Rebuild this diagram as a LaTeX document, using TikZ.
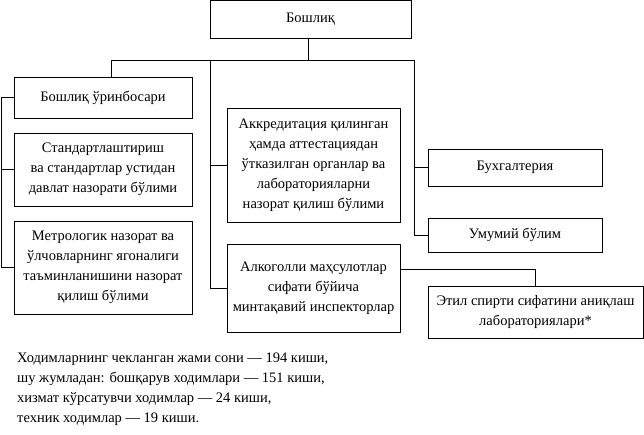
\documentclass[tikz,border=0pt]{standalone}
\usepackage{fontspec}
\setmainfont{Liberation Serif}
\usetikzlibrary{positioning,calc}

\tikzset{
    unit/.style={draw, line width=0.9pt, align=center, inner sep=2pt, font=\fontsize{14.5}{20}\selectfont},
    link/.style={line width=0.9pt}
}

\begin{document}
\begin{tikzpicture}[x=1pt, y=-1pt]
    \useasboundingbox (0,0) rectangle (644,435);

    % top
    \node[unit, minimum width=201pt, minimum height=37.5pt] (boss) at (310.5,19.25) {Бошлиқ};

    % left column
    \node[unit, minimum width=178pt, minimum height=41pt] (deputy) at (103,97.5) {Бошлиқ ўринбосари};
    \node[unit, minimum width=178pt, minimum height=73pt] (stand) at (103,169.5) {Стандартлаштириш\\ва стандартлар устидан\\давлат назорати бўлими};
    \node[unit, minimum width=178pt, minimum height=93pt] (metro) at (103,267.5) {Метрологик назорат ва\\ўлчовларнинг ягоналиги\\таъминланишини назорат\\қилиш бўлими};

    % middle column
    \node[unit, minimum width=173pt, minimum height=114pt] (accred) at (313.5,165) {Аккредитация қилинган\\ҳамда аттестациядан\\ўтказилган органлар ва\\лабораторияларни\\назорат қилиш бўлими};
    \node[unit, minimum width=173pt, minimum height=88pt] (alco) at (313.5,288) {Алкоголли маҳсулотлар\\сифати бўйича\\минтақавий инспекторлар};

    % right column
    \node[unit, minimum width=174pt, minimum height=37pt] (account) at (515,167.5) {Бухгалтерия};
    \node[unit, minimum width=174pt, minimum height=34pt] (general) at (515,235) {Умумий бўлим};
    \node[unit, minimum width=215pt, minimum height=52pt] (ethyl) at (535.5,312) {Этил спирти сифатини аниқлаш\\лабораториялари*};

    % staff note
    \node[anchor=north west, align=left, inner sep=0pt, font=\fontsize{14.5}{20}\selectfont] (staff) at (17,353)
        {Ходимларнинг чекланган жами сони — 194 киши,\\шу жумладан: бошқарув ходимлари — 151 киши,\\хизмат кўрсатувчи ходимлар — 24 киши,\\техник ходимлар — 19 киши.};

    % bus
    \coordinate (busL) at (111,60);
    \coordinate (busM) at (210,60);
    \coordinate (busR) at (414,60);
    \draw[link] (boss.south -| 308,0) -- (308,60);
    \draw[link] (busL) -- (busR);
    \draw[link] (busL) -- (busL |- deputy.north);
    \draw[link] (busM) -- (busM |- alco.west) -- (alco.west);
    \draw[link] (busM |- accred.west) -- (accred.west);
    \draw[link] (busR) -- (busR |- general.west) -- (general.west);
    \draw[link] (busR |- account.west) -- (account.west);

    % deputy branch
    \draw[link] (deputy.west) -- ++(-12,0) |- (metro.west);
    \draw[link] ($(deputy.west)+(-12,0)$) |- (stand.west);

    % inspectors to laboratory
    \draw[link] ([yshift=19pt]alco.east) -| (ethyl.north);
\end{tikzpicture}
\end{document}
